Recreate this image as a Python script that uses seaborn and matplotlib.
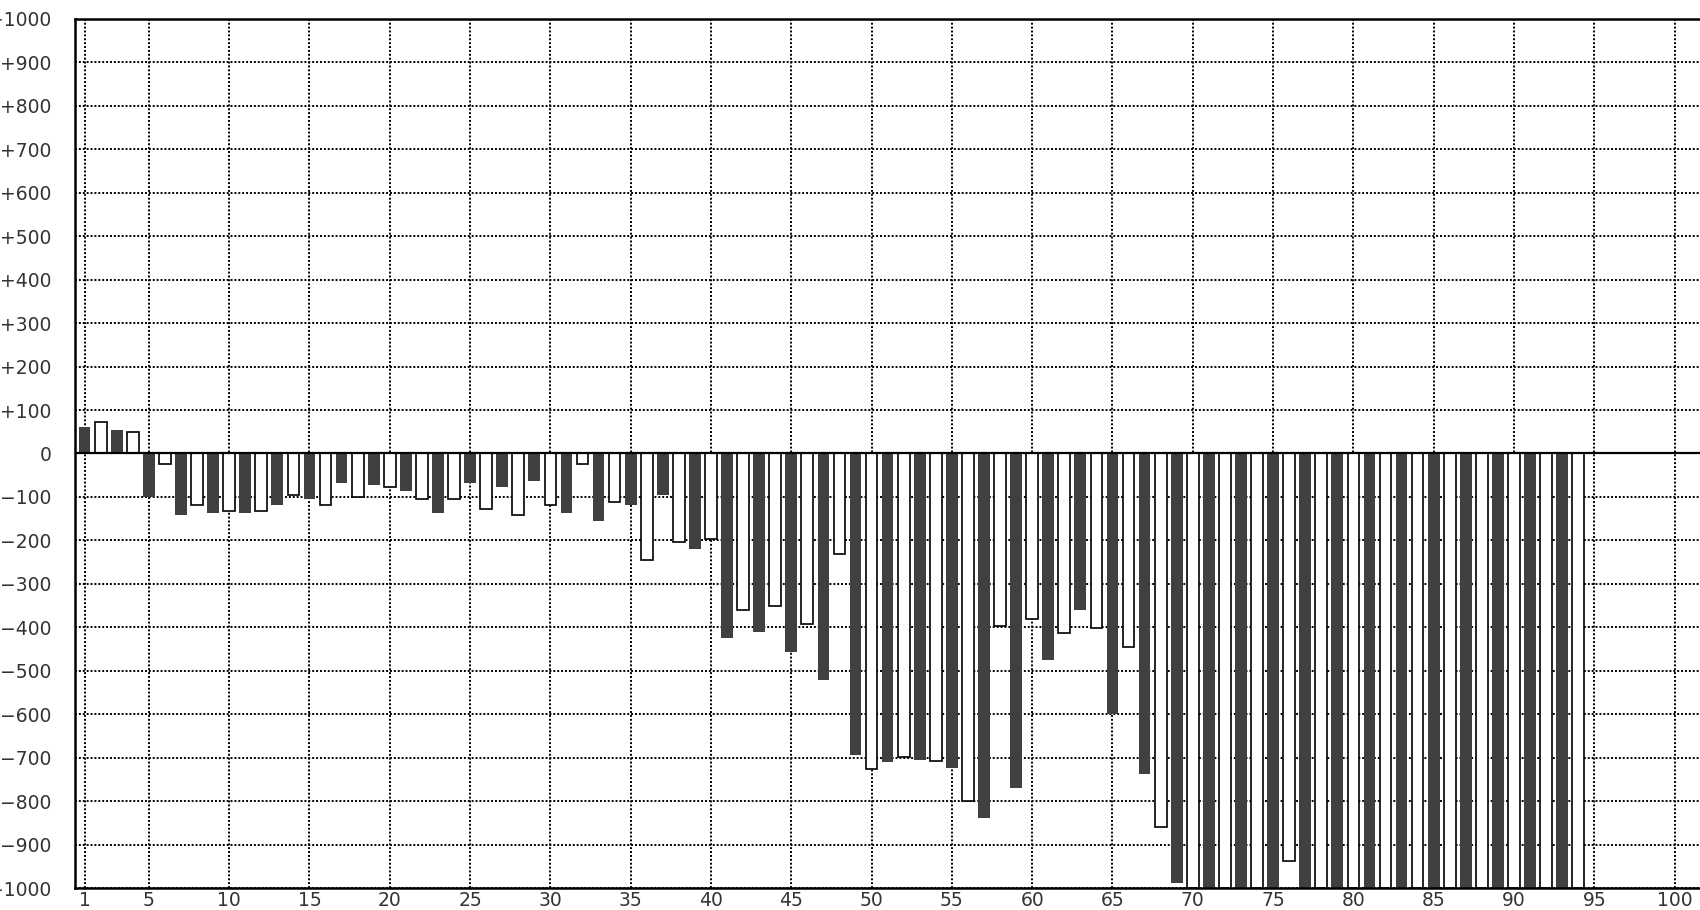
import numpy as np
import pandas as pd
import seaborn as sns
import matplotlib.pyplot as plt
from matplotlib.ticker import FixedLocator, FixedFormatter

# bar values, one per position 1..94
positions = list(range(1, 95))
values = [60, 73, 55, 50, -100, -25, -142, -118, -138, -132,
          -138, -132, -119, -95, -105, -118, -68, -99, -73, -77,
          -87, -104, -138, -104, -68, -127, -78, -141, -64, -118,
          -138, -25, -156, -112, -119, -246, -96, -204, -220, -196,
          -425, -360, -411, -351, -457, -392, -522, -231, -693, -727,
          -710, -699, -705, -708, -724, -800, -838, -396, -769, -382,
          -475, -414, -360, -401, -599, -446, -738, -859, -988, -1000,
          -1000, -1000, -1000, -1000, -1000, -938, -1000, -1000, -1000, -1000,
          -1000, -1000, -1000, -1000, -1000, -1000, -1000, -1000, -1000, -1000,
          -1000, -1000, -1000, -1000]
kinds = ["dark" if p % 2 else "light" for p in positions]

x_ticks = [1, 5, 10, 15, 20, 25, 30, 35, 40, 45, 50, 55, 60, 65, 70, 75, 80, 85, 90, 95, 100]
y_ticks = list(range(-1000, 1001, 100))
y_labels = [("+%d" % v) if v > 0 else ("0" if v == 0 else "\u2212%d" % -v) for v in y_ticks]

df = pd.DataFrame({"pos": positions, "value": values, "kind": kinds})

sns.set_theme(style="white")
plt.rcParams['font.family'] = ['DejaVu Sans']

fig = plt.figure(figsize=(17, 9.1), dpi=100)
ax = fig.add_axes([75 / 1700, 22 / 910, (102.6 * 16.06) / 1700, 869 / 910])

sns.barplot(data=df, x="pos", y="value", hue="kind",
            palette={"dark": "#404040", "light": "white"},
            native_scale=True, dodge=False, width=0.73, errorbar=None,
            saturation=1, legend=False, ax=ax)

for p in ax.patches:
    fc = p.get_facecolor()
    if fc[0] > 0.9:
        p.set_edgecolor("black")
        p.set_linewidth(1.2)
    else:
        p.set_edgecolor("none")
    p.set_zorder(2)

ax.axhline(0, color="black", lw=1.6, zorder=3)

ax.set_xlim(0.4, 103)
ax.set_ylim(-1000, 1000)
ax.xaxis.set_major_locator(FixedLocator(x_ticks))
ax.xaxis.set_major_formatter(FixedFormatter([str(t) for t in x_ticks]))
ax.yaxis.set_major_locator(FixedLocator(y_ticks))
ax.yaxis.set_major_formatter(FixedFormatter(y_labels))
ax.set_xlabel("")
ax.set_ylabel("")

ax.set_axisbelow(True)
ax.grid(True, color="black", linestyle=(0, (1, 1)), linewidth=1.4)
ax.tick_params(axis="both", length=0, labelsize=13.5, labelcolor="#333333")
ax.tick_params(axis="y", pad=17)
ax.tick_params(axis="x", pad=2)

for s in ax.spines.values():
    s.set_color("black")
    s.set_linewidth(1.8)
    s.set_visible(True)

fig.savefig("out.png", dpi=100)
